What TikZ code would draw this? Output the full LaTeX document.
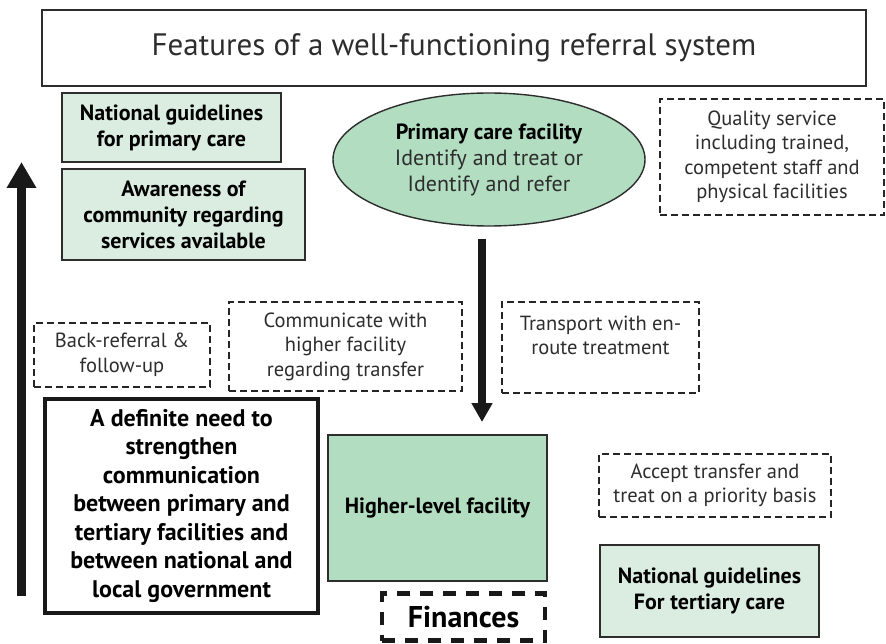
\documentclass[tikz,border=0pt]{standalone}
\usepackage{fontspec}
\setmainfont{PT Sans}
\usetikzlibrary{shapes.geometric,arrows.meta}
\definecolor{palegreen}{RGB}{218,237,224}
\definecolor{midgreen}{RGB}{178,221,193}
\definecolor{inkgray}{RGB}{45,45,45}

\begin{document}
\begin{tikzpicture}[x=1pt,y=-1pt]
    \tikzstyle{txt}=[align=center, text=inkgray, inner sep=2pt, font=\fontsize{20.5}{24.5}\selectfont]
    \tikzstyle{bold}=[txt, text=black, font=\fontsize{22}{26}\selectfont\bfseries]
    \tikzstyle{lightbox}=[bold, draw=inkgray, line width=1.4pt, fill=palegreen]
    \tikzstyle{darkbox}=[bold, draw=inkgray, line width=1.4pt, fill=midgreen]
    \tikzstyle{dashbox}=[txt, draw=black!85, line width=2.6pt, dash pattern=on 7pt off 4pt]

    \useasboundingbox (0,0) rectangle (886,644);

    % title
    \node[txt, draw=inkgray, line width=1.4pt, minimum width=824, minimum height=76,
          font=\fontsize{31}{36}\selectfont] (title) at (454,48)
        {Features of a well-functioning referral system};

    % left column
    \node[lightbox, minimum width=219, minimum height=69] (ngprim) at (171.5,127.5)
        {National guidelines\\for primary care};
    \node[lightbox, minimum width=243, minimum height=91] (aware) at (183.5,214.5)
        {Awareness of\\community regarding\\services available};
    \node[dashbox, minimum width=176, minimum height=64] (backref) at (122,355)
        {Back-referral \&\\follow-up};
    \node[bold, draw=black!90, line width=4pt, minimum width=273, minimum height=214,
          font=\fontsize{24}{28.5}\selectfont\bfseries] (need) at (181.5,506)
        {A definite need to\\strengthen\\communication\\between primary and\\tertiary facilities and\\between national and\\local government};

    % centre column
    \node[darkbox, ellipse, minimum width=312, minimum height=133] (primary) at (489,159.5)
        {Primary care facility\\\mdseries\color{inkgray}Identify and treat or\\\mdseries\color{inkgray}Identify and refer};
    \node[dashbox, minimum width=233, minimum height=89] (comm) at (345.5,346.5)
        {Communicate with\\higher facility\\regarding transfer};
    \node[dashbox, minimum width=197, minimum height=91] (transport) at (600.5,347.5)
        {Transport with en-\\route treatment\\\mbox{}};
    \node[darkbox, minimum width=219, minimum height=146] (higher) at (437.5,508)
        {Higher-level facility};
    \node[bold, draw=black!90, line width=4.5pt, dash pattern=on 13pt off 10pt,
          minimum width=163, minimum height=47, font=\fontsize{30}{34}\selectfont\bfseries]
        (finance) at (463.5,617) {Finances};

    % right column
    \node[dashbox, minimum width=224, minimum height=116] (quality) at (772,157)
        {Quality service\\including trained,\\competent staff and\\physical facilities};
    \node[dashbox, minimum width=232, minimum height=63] (accept) at (715,485.5)
        {Accept transfer and\\treat on a priority basis};
    \node[lightbox, minimum width=219, minimum height=92] (ngtert) at (709.5,591)
        {National guidelines\\For tertiary care};

    % arrows
    \coordinate (upbot) at (21.5,596);
    \coordinate (uptop) at (21.5,162);
    \coordinate (downtop) at (482,239);
    \coordinate (downbot) at (482,422);
    \draw[black!90, line width=9.5pt, -{Triangle[width=28pt,length=26pt]}] (upbot) -- (uptop);
    \draw[black!90, line width=7.5pt, -{Triangle[width=20pt,length=19pt]}] (downtop) -- (downbot);
\end{tikzpicture}
\end{document}
